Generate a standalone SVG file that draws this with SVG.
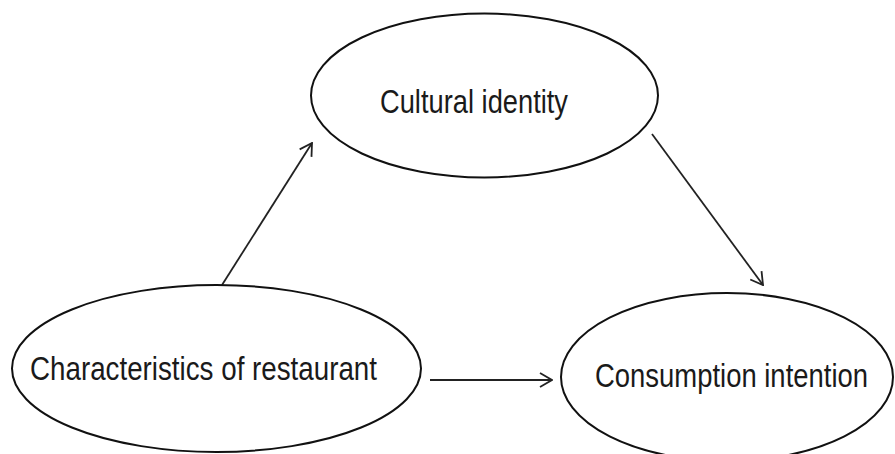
<svg xmlns="http://www.w3.org/2000/svg" width="895" height="454" viewBox="0 0 895 454">
  <style>
    .node ellipse { fill: #ffffff; stroke: #111111; stroke-width: 2; }
    .node text { font-family: "Liberation Sans Narrow", "Liberation Sans", Arial, sans-serif; font-size: 33px; fill: #1a1a1a; }
    .edge { stroke: #222222; stroke-width: 1.8; fill: none; marker-end: url(#open-arrow); }
  </style>
  <defs>
    <marker id="open-arrow" viewBox="0 0 14 16" refX="13" refY="8" markerWidth="14" markerHeight="16" markerUnits="userSpaceOnUse" orient="auto">
      <path d="M1,1 L13,8 L1,15" fill="none" stroke="#222222" stroke-width="1.8"/>
    </marker>
  </defs>
  <rect width="895" height="454" fill="#ffffff"/>

  <g id="connectors">
    <line class="edge" x1="222" y1="285" x2="312" y2="143"/>
    <line class="edge" x1="652" y1="134" x2="763" y2="285"/>
    <line class="edge" x1="430" y1="380" x2="552" y2="380"/>
  </g>

  <g id="cultural-identity" class="node">
    <ellipse cx="484.5" cy="95.5" rx="173.5" ry="82"/>
    <text x="380" y="113" textLength="188" lengthAdjust="spacingAndGlyphs">Cultural identity</text>
  </g>

  <g id="characteristics-of-restaurant" class="node">
    <ellipse cx="216.5" cy="368.5" rx="204.5" ry="83.5"/>
    <text x="30" y="380" textLength="347" lengthAdjust="spacingAndGlyphs">Characteristics of restaurant</text>
  </g>

  <g id="consumption-intention" class="node">
    <ellipse cx="727" cy="377" rx="166" ry="84"/>
    <text x="595" y="387" textLength="273" lengthAdjust="spacingAndGlyphs">Consumption intention</text>
  </g>
</svg>
